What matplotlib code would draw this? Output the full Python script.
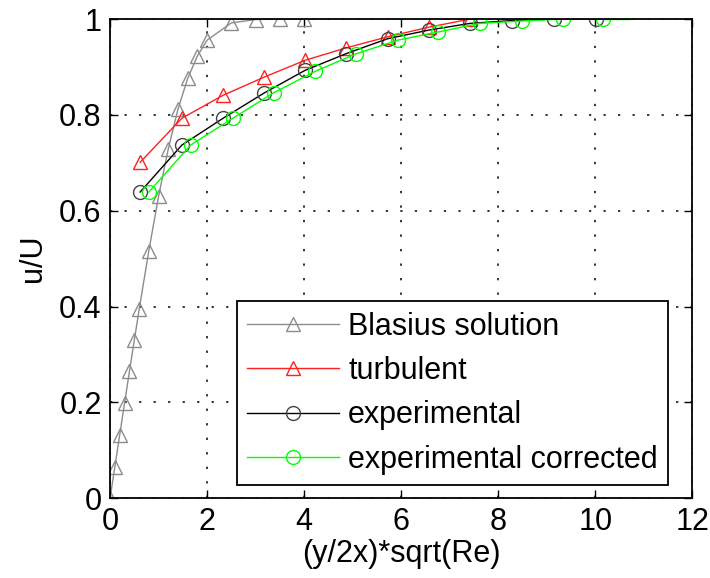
import matplotlib.pyplot as plt

plt.rcParams['font.family'] = ['Liberation Sans', 'DejaVu Sans']

# Blasius solution
blasius_x = [0, 0.1, 0.2, 0.3, 0.4, 0.5, 0.6, 0.8, 1.0, 1.2, 1.4, 1.6, 1.8, 2.0,
             2.5, 3.0, 3.5, 4.0]
blasius_u = [0, 0.066, 0.133, 0.199, 0.265, 0.330, 0.394, 0.517, 0.630, 0.729,
             0.812, 0.876, 0.923, 0.956, 0.992, 0.999, 1.0, 1.0]

# 1/7 power law
turb_x = [0.62, 1.48, 2.33, 3.18, 4.02, 4.87, 5.72, 6.57, 7.42]
turb_u = [0.701, 0.793, 0.841, 0.879, 0.914, 0.940, 0.963, 0.983, 1.0]

# measured
exp_x = [0.62, 1.48, 2.33, 3.18, 4.02, 4.87, 5.72, 6.57, 7.42, 8.29, 9.15, 10.02]
exp_u = [0.639, 0.737, 0.793, 0.846, 0.893, 0.928, 0.959, 0.977, 0.991, 0.997,
         1.0, 1.0]

corr_x = [0.80, 1.66, 2.53, 3.37, 4.23, 5.06, 5.93, 6.76, 7.62, 8.49, 9.33, 10.16]
corr_u = [0.639, 0.737, 0.793, 0.846, 0.891, 0.927, 0.956, 0.973, 0.991, 0.996,
          1.0, 1.0]
# free stream line after last corrected point
tail_x = [10.16, 10.72]
tail_u = [1.0, 1.0]

fig = plt.figure(figsize=(7.1, 5.78), dpi=100)
ax = fig.add_axes([0.155, 0.138, 0.82, 0.829])

fs = 22
ax.plot(blasius_x, blasius_u, color='#8c8c8c', lw=1, marker='^', ms=9.5,
        mfc='none', mec='#8c8c8c', label='Blasius solution')
ax.plot(turb_x, turb_u, color='#ff2020', lw=1, marker='^', ms=9.5,
        mfc='none', mec='#ff2020', label='turbulent')
ax.plot(exp_x, exp_u, color='k', lw=1, marker='o', ms=10,
        mfc='none', mec='#444444', label='experimental')
ax.plot(corr_x, corr_u, color='#00ff00', lw=1, marker='o', ms=10,
        mfc='none', mec='#00ff00', label='experimental corrected')
ax.plot(tail_x, tail_u, color='#00ff00', lw=1)

ax.set_xlim(0, 12)
ax.set_ylim(0, 1)
ax.set_xticks(range(0, 13, 2))
ax.set_yticks([0, 0.2, 0.4, 0.6, 0.8, 1])
ax.set_yticklabels(['0', '0.2', '0.4', '0.6', '0.8', '1'])
ax.tick_params(direction='in', top=True, right=True, length=6, width=1,
               labelsize=fs, colors='k', pad=6)
for s in ax.spines.values():
    s.set_linewidth(1.3)
ax.grid(True, color='k', lw=1.1, linestyle=(0, (1.5, 8)))
ax.set_axisbelow(True)

ax.set_xlabel('(y/2x)*sqrt(Re)', fontsize=fs, labelpad=2)
ax.set_ylabel('u/U', fontsize=fs, labelpad=8)

leg = ax.legend(loc='lower right', bbox_to_anchor=(0.959, 0.027), fontsize=fs,
                handlelength=3.0, handletextpad=0.3, labelspacing=0.47,
                borderpad=0.35, fancybox=False, framealpha=1, borderaxespad=0)
leg.get_frame().set_edgecolor('k')
leg.get_frame().set_linewidth(1.3)

fig.savefig('out.png', dpi=100)
